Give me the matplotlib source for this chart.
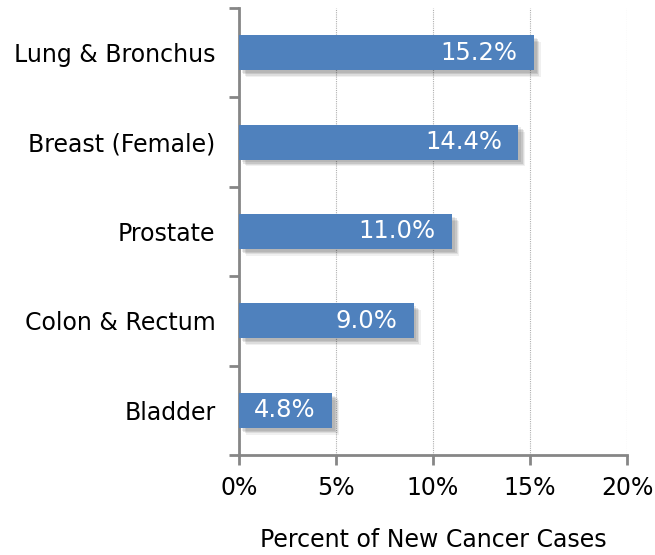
import matplotlib
matplotlib.use("Agg")
import matplotlib.pyplot as plt
import matplotlib.patheffects as pe
import numpy as np

categories = ["Lung & Bronchus", "Breast (Female)", "Prostate", "Colon & Rectum", "Bladder"]
values = [15.2, 14.4, 11.0, 9.0, 4.8]
xticks = [0, 5, 10, 15, 20]
xticklabels = ["0%", "5%", "10%", "15%", "20%"]

plt.rcParams['font.family'] = ['DejaVu Sans']
fig = plt.figure(figsize=(6.55, 5.55), dpi=100)
ax = fig.add_axes([239/655, 1-455/555, (627-239)/655, (455-8)/555])

bar_color = "#4f81bd"
spine_color = "#868686"
y = np.arange(len(categories))
bars = ax.barh(y, values, height=0.39, color=bar_color, zorder=3)
shadow = []
for dx, dy, a in [(5, -5, 0.06), (4, -4, 0.08), (3, -3, 0.10), (2, -2, 0.08)]:
    shadow.append(pe.SimplePatchShadow(offset=(dx, dy), shadow_rgbFace="#000000", alpha=a))
for b in bars:
    b.set_path_effects(shadow + [pe.Normal()])

for yi, v in zip(y, values):
    ax.text(v - 0.85, yi, f"{v:.1f}%", color="white", ha="right", va="center",
            fontsize=17.5, zorder=4)

ax.set_xlim(0, 20)
ax.set_ylim(len(categories) - 0.5, -0.5)
ax.set_xticks(xticks)
ax.set_xticklabels(xticklabels, fontsize=17)
ax.set_yticks(y)
ax.set_yticklabels(categories, fontsize=17)
ax.tick_params(axis='y', length=0, pad=17)
ax.set_yticks(np.arange(-0.5, len(categories), 1.0), minor=True)
ax.tick_params(axis='y', which='minor', length=7, width=2, color=spine_color, direction='out')
ax.tick_params(axis='x', length=7, width=2, color=spine_color, direction='out', pad=8)

for s in ["top", "right"]:
    ax.spines[s].set_visible(False)
for s in ["left", "bottom"]:
    ax.spines[s].set_color(spine_color)
    ax.spines[s].set_linewidth(2)

ax.grid(axis='x', linestyle=(0, (1, 1)), color="#b0b0b0", linewidth=0.8, zorder=0)
ax.set_axisbelow(True)
ax.set_xlabel("Percent of New Cancer Cases", fontsize=17, labelpad=20)

fig.savefig("out.png", dpi=100)
